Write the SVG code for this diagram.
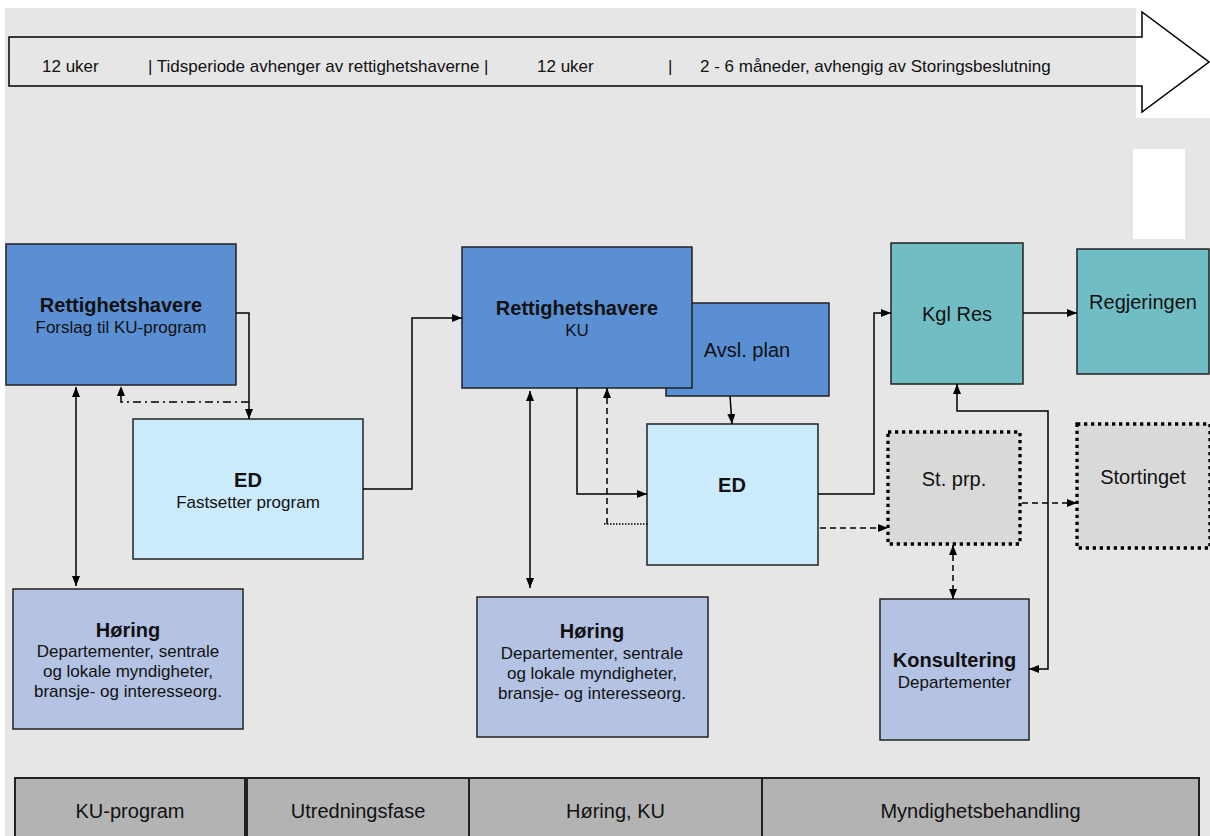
<svg xmlns="http://www.w3.org/2000/svg" width="1210" height="836" viewBox="0 0 1210 836">
<style>
text{font-family:"Liberation Sans",Arial,sans-serif;fill:#111;text-anchor:middle}
.tl{font-size:17px;text-anchor:start}
.b{font-size:20px;font-weight:bold}
.r{font-size:17px}
.l{font-size:20px}
.box{stroke:#222;stroke-width:1.5}
.rh{fill:#5a8fd3}
.ed{fill:#cbeafc}
.hr{fill:#b4c3e4}
.kg{fill:#70bec4}
.dot{fill:#d9d9d9;stroke:#000;stroke-width:3.3;stroke-dasharray:3.3 3.7}
.ph{fill:#b3b3b3;stroke:#222;stroke-width:2}
.c{fill:none;stroke:#000;stroke-width:1.5}
.dash{stroke-dasharray:6 4}
.dd{stroke-dasharray:8 4 2 4}
.dt{stroke-dasharray:1.5 1.5;stroke-width:1.3}
</style>
<defs>
<marker id="a" markerWidth="10" markerHeight="8" refX="10" refY="4" orient="auto-start-reverse" markerUnits="userSpaceOnUse"><path d="M0,0 L10,4 L0,8 z" fill="#000"/></marker>
</defs>
<rect x="0" y="0" width="1210" height="836" fill="#fff"/>
<rect x="5" y="8" width="1205" height="828" fill="#e6e6e6"/>
<rect x="1136" y="8" width="74" height="110" fill="#fff"/>
<rect x="1133" y="149" width="52" height="90" fill="#fff"/>
<g id="timeline">
<polygon points="9,37 1142,37 1142,12 1209,62 1142,112 1142,86 9,86" fill="none" stroke="#000" stroke-width="1.5"/>
<text class="tl" x="42" y="72">12 uker</text>
<text class="tl" x="148" y="72">| Tidsperiode avhenger av rettighetshaverne |</text>
<text class="tl" x="537" y="72">12 uker</text>
<text class="tl" x="668" y="72">|</text>
<text class="tl" x="700" y="72">2 - 6 måneder, avhengig av Storingsbeslutning</text>
</g>
<g id="n-rett1"><rect class="box rh" x="6" y="244" width="230" height="141"/><text class="b" x="121" y="312">Rettighetshavere</text><text class="r" x="121" y="333">Forslag til KU-program</text></g>
<g id="n-ed1"><rect class="box ed" x="133" y="419" width="230" height="140"/><text class="b" x="248" y="487">ED</text><text class="r" x="248" y="508">Fastsetter program</text></g>
<g id="n-hoering1"><rect class="box hr" x="13" y="589" width="230" height="140"/><text class="b" x="128" y="637">Høring</text><text class="r" x="128" y="657">Departementer, sentrale</text><text class="r" x="128" y="677">og lokale myndigheter,</text><text class="r" x="128" y="697">bransje- og interesseorg.</text></g>
<g id="n-avsl"><rect class="box rh" x="666" y="303" width="163" height="93"/><text class="l" x="747" y="357">Avsl. plan</text></g>
<g id="n-rett2"><rect class="box rh" x="462" y="247" width="230" height="141"/><text class="b" x="577" y="315">Rettighetshavere</text><text class="r" x="577" y="336">KU</text></g>
<g id="n-ed2"><rect class="box ed" x="647" y="424" width="171" height="141"/><text class="b" x="732" y="492">ED</text></g>
<g id="n-hoering2"><rect class="box hr" x="477" y="597" width="231" height="140"/><text class="b" x="592" y="638">Høring</text><text class="r" x="592" y="659">Departementer, sentrale</text><text class="r" x="592" y="679">og lokale myndigheter,</text><text class="r" x="592" y="699">bransje- og interesseorg.</text></g>
<g id="n-kgl"><rect class="box kg" x="891" y="243" width="132" height="141"/><text class="l" x="957" y="321">Kgl Res</text></g>
<g id="n-regj"><rect class="box kg" x="1077" y="249" width="132" height="125"/><text class="l" x="1143" y="309">Regjeringen</text></g>
<g id="n-stprp"><rect class="dot" x="888" y="432" width="132" height="112"/><text class="l" x="954" y="486">St. prp.</text></g>
<g id="n-storting"><rect class="dot" x="1077" y="424" width="133" height="124"/><text class="l" x="1143" y="484">Stortinget</text></g>
<g id="n-kons"><rect class="box hr" x="880" y="599" width="149" height="141"/><text class="b" x="954.5" y="667">Konsultering</text><text class="r" x="954.5" y="688">Departementer</text></g>
<g id="phases">
<rect class="ph" x="15" y="778" width="230" height="62"/><text class="l" x="130" y="818">KU-program</text>
<rect class="ph" x="247" y="778" width="222" height="62"/><text class="l" x="358" y="818">Utredningsfase</text>
<rect class="ph" x="469" y="778" width="293" height="62"/><text class="l" x="615.5" y="818">Høring, KU</text>
<rect class="ph" x="762" y="778" width="437" height="62"/><text class="l" x="980.5" y="818">Myndighetsbehandling</text>
</g>
<g id="connectors">
<path class="c" d="M236,313 H249 V419" marker-end="url(#a)"/>
<path class="c dd" d="M249,402 H121 V386" marker-end="url(#a)"/>
<path class="c" d="M76,387 V586" marker-start="url(#a)" marker-end="url(#a)"/>
<path class="c" d="M363,489 H412 V318 H462" marker-end="url(#a)"/>
<path class="c" d="M577,388 V494 H647" marker-end="url(#a)"/>
<path class="c dash" d="M607,524 V388" marker-end="url(#a)"/>
<path class="c dt" d="M604,524 H649"/>
<path class="c" d="M730,396 L732,424" marker-end="url(#a)"/>
<path class="c" d="M530,391 V588" marker-start="url(#a)" marker-end="url(#a)"/>
<path class="c" d="M818,494 H874 V313 H891" marker-end="url(#a)"/>
<path class="c dash" d="M820,528 H888" marker-end="url(#a)"/>
<path class="c" d="M1023,313 H1077" marker-end="url(#a)"/>
<path class="c dash" d="M1022,503 H1077" marker-end="url(#a)"/>
<path class="c" d="M957,384 V411 H1048 V669 H1029" marker-start="url(#a)" marker-end="url(#a)"/>
<path class="c dash" d="M953,545 V599" marker-start="url(#a)" marker-end="url(#a)"/>
</g>
</svg>
